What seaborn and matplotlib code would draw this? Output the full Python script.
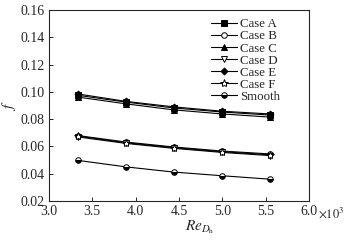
import numpy as np
import pandas as pd
import seaborn as sns
import matplotlib.pyplot as plt

# Reynolds number (x10^3)
re_dh = [3.33, 3.89, 4.44, 5.00, 5.55]

case_a = [0.0975, 0.0925, 0.0882, 0.0852, 0.0830]
case_b = [0.0680, 0.0632, 0.0596, 0.0566, 0.0545]
case_c = [0.0962, 0.0912, 0.0868, 0.0838, 0.0815]
case_d = [0.0670, 0.0622, 0.0586, 0.0556, 0.0533]
case_e = [0.0985, 0.0930, 0.0890, 0.0858, 0.0838]
case_f = [0.0676, 0.0627, 0.0591, 0.0561, 0.0539]
smooth = [0.0498, 0.0450, 0.0412, 0.0385, 0.0360]

names = ["Case A", "Case B", "Case C", "Case D", "Case E", "Case F", "Smooth"]
series = [case_a, case_b, case_c, case_d, case_e, case_f, smooth]

# marker, face colour
styles = {
    "Case A": ("s", "black"),
    "Case B": ("o", "white"),
    "Case C": ("^", "black"),
    "Case D": ("v", "white"),
    "Case E": ("D", "black"),
    "Case F": ("*", "white"),
    "Smooth": ("o", "black"),
}

rows = []
for n, vals in zip(names, series):
    for x, y in zip(re_dh, vals):
        rows.append({"Re": x, "f": y, "case": n})
df = pd.DataFrame(rows)

sns.set_style("ticks")
plt.rcParams['font.family'] = ['Liberation Serif', 'DejaVu Serif']
plt.rcParams['mathtext.fontset'] = 'stix'
plt.rcParams['font.size'] = 10

fig = plt.figure(figsize=(3.47, 2.41), dpi=100)
ax = fig.add_axes([0.141, 0.166, 0.749, 0.7925])

for n in names:
    mk, fc = styles[n]
    sub = df[df["case"] == n]
    kw = {}
    if n == "Smooth":
        kw = dict(fillstyle="bottom", markerfacecoloralt="white")
    ms = 6 if mk == "*" else (3.5 if mk == "D" else 4)
    sns.lineplot(data=sub, x="Re", y="f", ax=ax, color="black", lw=0.8,
                 marker=mk, markersize=ms, markerfacecolor=fc,
                 markeredgecolor="black", markeredgewidth=0.7,
                 label=n, **kw)

ax.set_xlim(3.0, 6.0)
ax.set_ylim(0.02, 0.16)
ax.set_xticks([3.0, 3.5, 4.0, 4.5, 5.0, 5.5, 6.0])
ax.set_xticklabels(["3.0", "3.5", "4.0", "4.5", "5.0", "5.5", "6.0"])
ax.set_yticks(np.arange(0.02, 0.161, 0.02))
ax.set_yticklabels(["%.2f" % v for v in np.arange(0.02, 0.161, 0.02)])
ax.tick_params(direction="in", length=3, width=0.7, labelsize=10, pad=3)
for s in ax.spines.values():
    s.set_linewidth(0.8)

ax.set_xlabel(r"$Re_{D_\mathrm{h}}$", fontsize=11)
ax.xaxis.set_label_coords(0.58, -0.09)
ax.set_ylabel(r"$f$", fontsize=11, rotation=90)
ax.yaxis.set_label_coords(-0.12, 0.5)
ax.text(1.035, -0.063, r"$\times10^3$", transform=ax.transAxes, fontsize=9,
        ha="left", va="center")

leg = ax.legend(loc="upper right", bbox_to_anchor=(0.92, 1.0), frameon=False,
                fontsize=9.3, handlelength=2.0, handletextpad=0.2,
                labelspacing=0.0, borderaxespad=0.25)

fig.savefig("out.png", dpi=100)
